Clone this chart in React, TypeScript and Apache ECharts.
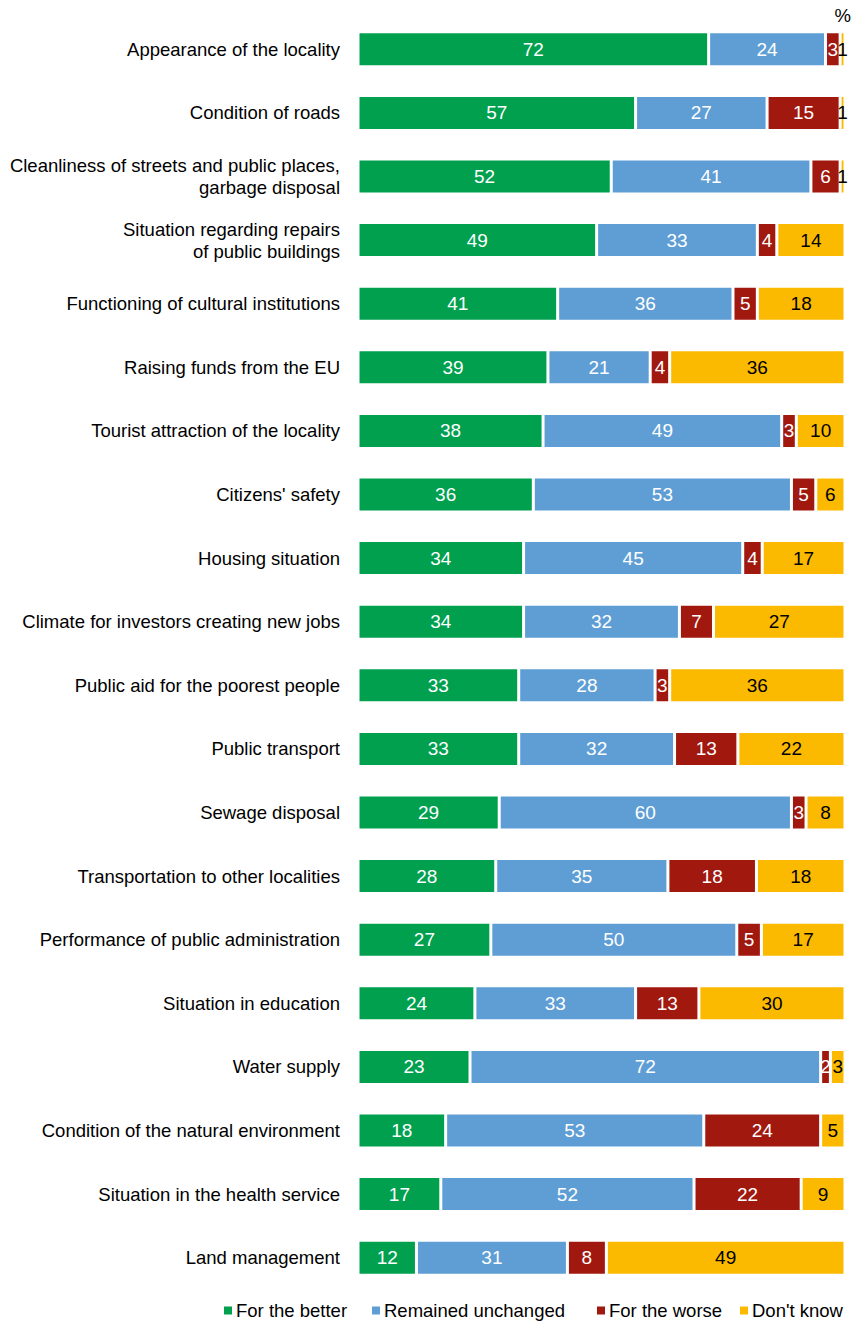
import React, { useEffect, useRef } from "react";
import * as echarts from "echarts";

const categories = [
  "Appearance of the locality",
  "Condition of roads",
  "Cleanliness of streets and public places,\ngarbage disposal",
  "Situation regarding repairs\nof public buildings",
  "Functioning of cultural institutions",
  "Raising funds from the EU",
  "Tourist attraction of the locality",
  "Citizens' safety",
  "Housing situation",
  "Climate for investors creating new jobs",
  "Public aid for the poorest people",
  "Public transport",
  "Sewage disposal",
  "Transportation to other localities",
  "Performance of public administration",
  "Situation in education",
  "Water supply",
  "Condition of the natural environment",
  "Situation in the health service",
  "Land management",
];

const better = [72, 57, 52, 49, 41, 39, 38, 36, 34, 34, 33, 33, 29, 28, 27, 24, 23, 18, 17, 12];
const unchanged = [24, 27, 41, 33, 36, 21, 49, 53, 45, 32, 28, 32, 60, 35, 50, 33, 72, 53, 52, 31];
const worse = [3, 15, 6, 4, 5, 4, 3, 5, 4, 7, 3, 13, 3, 18, 5, 13, 2, 24, 22, 8];
const dontKnow = [1, 1, 1, 14, 18, 36, 10, 6, 17, 27, 36, 22, 8, 18, 17, 30, 3, 5, 9, 49];

const seriesNames = ["For the better", "Remained unchanged", "For the worse", "Don't know"];
const seriesColors = ["#00A04F", "#5E9ED5", "#A0180E", "#FBBA00"];
const labelColors = ["#ffffff", "#ffffff", "#ffffff", "#000000"];
const legendLefts = [222, 370, 595, 738];

const FONT = "'Liberation Sans', Arial, sans-serif";

export default function App() {
  const ref = useRef<HTMLDivElement>(null);
  useEffect(() => {
    if (!ref.current) return;
    const chart = echarts.init(ref.current, null, { renderer: "svg" });
    const allData = [better, unchanged, worse, dontKnow];
    // 100% stacked bars: each row is scaled to its own total, labels show the read value
    const rowTotals = categories.map((_, r) => allData.reduce((s, d) => s + d[r], 0));
    chart.setOption({
      animation: false,
      backgroundColor: "#ffffff",
      textStyle: { fontFamily: FONT },
      grid: { left: 358, right: 6, top: 17.5, bottom: 34.5, containLabel: false },
      xAxis: {
        type: "value",
        min: 0,
        max: 100,
        show: false,
      },
      yAxis: {
        type: "category",
        inverse: true,
        data: categories,
        axisLine: { show: false },
        axisTick: { show: false },
        splitLine: { show: false },
        axisLabel: {
          margin: 18,
          color: "#000000",
          fontSize: 18.5,
          fontFamily: FONT,
          lineHeight: 22,
          align: "right",
        },
      },
      legend: seriesNames.map((n, i) => ({
        data: [n],
        left: legendLefts[i],
        top: 1301,
        itemWidth: 10,
        itemHeight: 10,
        icon: "rect",
        padding: 0,
        textStyle: { fontSize: 18.5, color: "#000000", fontFamily: FONT, padding: [0, 0, 0, -2] },
        selectedMode: false,
      })),
      graphic: [
        {
          type: "text",
          right: 0,
          top: 6,
          style: { text: "%", fill: "#000000", font: "18.5px " + FONT },
        },
      ],
      series: allData.map((d, i) => ({
        name: seriesNames[i],
        type: "bar",
        stack: "total",
        data: d.map((v, r) => ({ value: (v * 100) / rowTotals[r] })),
        barWidth: 35,
        itemStyle: { color: seriesColors[i], borderColor: "#ffffff", borderWidth: 1.5 },
        label: {
          show: true,
          position: "inside",
          color: labelColors[i],
          fontSize: 19,
          fontFamily: FONT,
          textBorderWidth: 0,
          formatter: (p: any) => String(d[p.dataIndex]),
        },
        emphasis: { disabled: true },
      })),
    });
    return () => chart.dispose();
  }, []);
  return (
    <div
      ref={ref}
      style={{ position: "absolute", left: 0, top: 0, width: 851, height: 1324 }}
    />
  );
}
